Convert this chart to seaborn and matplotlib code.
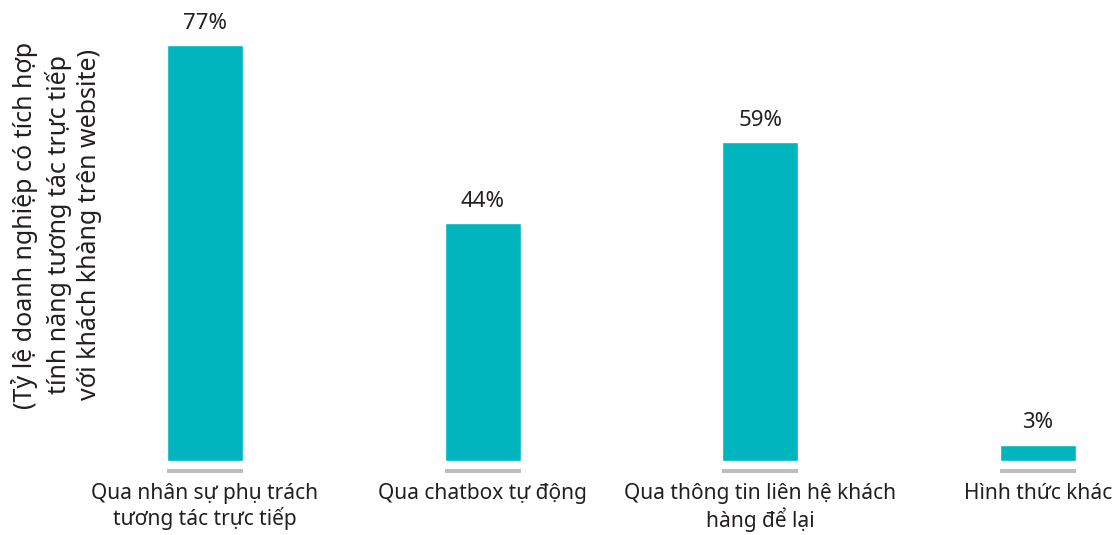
import pandas as pd
import seaborn as sns
import matplotlib.pyplot as plt

# Data
categories = ['Qua nhân sự phụ trách\ntương tác trực tiếp',
              'Qua chatbox tự động',
              'Qua thông tin liên hệ khách\nhàng để lại',
              'Hình thức khác']
values = [77, 44, 59, 3]
ylabel = '(Tỷ lệ doanh nghiệp có tích hợp\ntính năng tương tác trực tiếp\nvới khách khàng trên website)'

df = pd.DataFrame({'cat': categories, 'val': values})

sns.set_theme(style='white')
plt.rcParams['font.family'] = ['Noto Sans', 'DejaVu Sans']

W, H = 1117, 535
fig = plt.figure(figsize=(W / 100, H / 100), dpi=100)
ax = fig.add_axes([120 / W, 58 / H, 990 / W, 462 / H])

teal = '#00B5BD'
grey = '#BCBEC0'
text_c = '#231F20'

sns.barplot(data=df, x='cat', y='val', color=teal, width=0.274,
            saturation=1, ax=ax)
# grey baseline strip under each bar
ax.bar(range(len(categories)), [-0.75] * len(categories), bottom=-1.5,
       width=0.274, color=grey, linewidth=0)

ax.bar_label(ax.containers[0], labels=[f'{v}%' for v in values],
             padding=8, fontsize=16, color=text_c)

ax.set_xlim(-0.306, 3.259)
ax.set_ylim(-3, 82.55)
ax.set_xlabel('')
ax.set_ylabel('')
ax.set_yticks([])
ax.tick_params(axis='x', length=0, pad=4, labelsize=15, labelcolor=text_c)
sns.despine(ax=ax, left=True, bottom=True)

fig.text(57 / W, 1 - 225 / H, ylabel, rotation=90, ha='center', va='center',
         fontsize=18, color=text_c, linespacing=1.3)

fig.savefig('out.png', dpi=100)
plt.close()
